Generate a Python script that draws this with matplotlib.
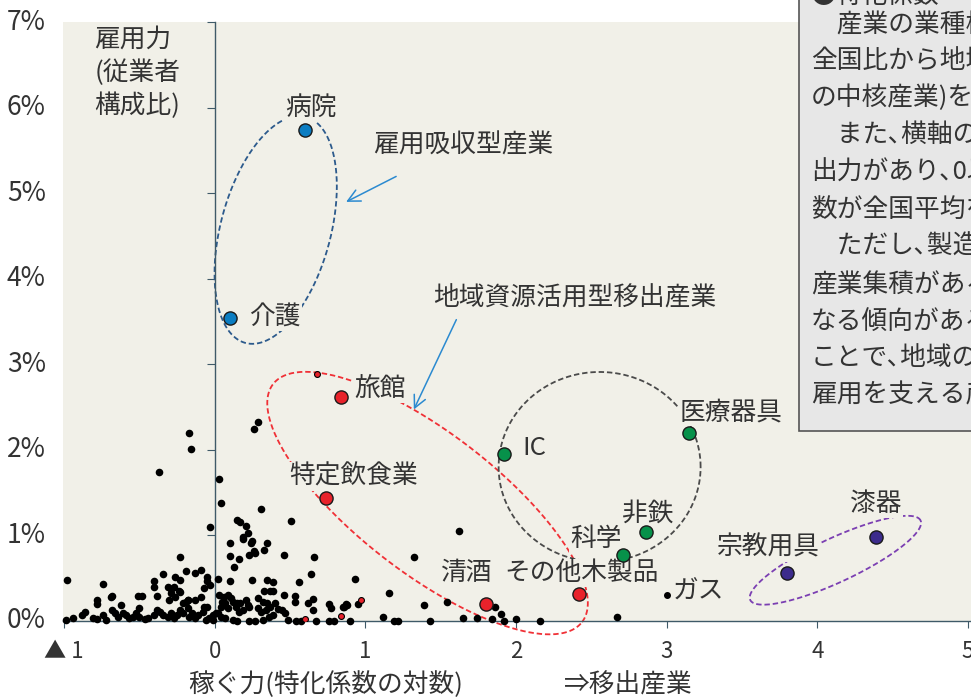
import numpy as np
import matplotlib
matplotlib.use("Agg")
import matplotlib.pyplot as plt
from matplotlib.patches import Rectangle

plt.rcParams['font.family'] = ['Noto Sans CJK JP', 'DejaVu Sans']

# ---------------------------------------------------------------------------
# data: x = 稼ぐ力 (特化係数の対数), y = 雇用力 (従業者構成比, %)
# ---------------------------------------------------------------------------
bg_x = [
    -0.98, -0.74, -0.23, -0.03, -0.37, -0.17, -0.16,
    -0.34, -0.26, -0.23, -0.19, -0.13, -0.09, -0.05, -0.05, -0.03,
    -0.40, -0.40, -0.31, -0.29, -0.24, -0.38, -0.26, -0.30,
    -0.51, -0.48, -0.68, -0.69, -0.78, -0.78, -0.50, -0.62,
    -0.07, -0.09, -0.13, -0.18, -0.21, -0.05, -0.07,
    -0.27, -0.29, -0.23, -0.19, -0.18,
    -0.99, -0.94, -0.88, -0.86, -0.81, -0.78, -0.74, -0.72, -0.68, -0.66,
    -0.64, -0.61, -0.59, -0.57, -0.54, -0.52, -0.50, -0.46, -0.44, -0.40,
    -0.38, -0.36, -0.34, -0.31, -0.29, -0.27, -0.25, -0.23, -0.21, -0.18,
    -0.17, -0.15, -0.13, -0.11, -0.08, -0.06, -0.04, -0.01, -0.01, 0.01,
    0.03, 0.04, 0.26, 0.29, 0.31, 0.51, 0.15, 0.17, 0.21, 0.22, 0.19, 0.19,
    0.25, 0.24, 0.10, 0.35, 0.33, 0.26, 0.27, 0.23, 0.10, 0.16, 0.13,
    0.46, 0.66, 0.64, 0.56, 0.93, 0.02, 0.10, 0.35, 0.39, 0.25,
    0.37, 0.39, 0.33, 0.46, 0.53, 0.53, 0.65, 0.62, 0.65, 0.76, 0.77,
    0.87, 0.85, 0.88, 0.86, 0.95,
    0.03, 0.06, 0.09, 0.11, 0.05, 0.07, 0.12, 0.15, 0.17, 0.21, 0.22,
    0.04, 0.09, 0.14, 0.16, 0.19, 0.23, 0.29, 0.32, 0.35, 0.29, 0.31,
    0.34, 0.37, 0.40, 0.42, 0.45, 0.39, 0.36, 0.32, 0.27, 0.23,
    0.02, 0.04, 0.07, 0.12, 0.15, 0.47, 0.49, 0.54, 0.57,
    0.67, 0.79, 0.76, 0.90,
    1.12, 1.16, 1.19, 1.22, 1.32, 1.43, 1.39, 1.54, 1.62, 1.65, 1.74,
    1.86, 1.90, 1.92, 1.84, 2.00, 2.16, 2.67,
]
bg_y = [
    0.48, 0.43, 0.75, 1.10, 1.74, 2.20, 2.01,
    0.55, 0.51, 0.48, 0.58, 0.56, 0.60, 0.51, 0.47, 0.42,
    0.47, 0.40, 0.40, 0.33, 0.35, 0.29, 0.28, 0.25,
    0.29, 0.29, 0.29, 0.28, 0.25, 0.20, 0.15, 0.19,
    0.39, 0.28, 0.25, 0.25, 0.21, 0.16, 0.16,
    0.40, 0.37, 0.34, 0.22, 0.25,
    0.01, 0.03, 0.07, 0.10, 0.03, 0.02, 0.07, 0.01, 0.13, 0.09,
    0.05, 0.09, 0.07, 0.03, 0.05, 0.09, 0.05, 0.02, 0.03, 0.07,
    0.13, 0.11, 0.07, 0.05, 0.09, 0.03, 0.07, 0.13, 0.09, 0.15,
    0.05, 0.09, 0.03, 0.07, 0.11, 0.01, 0.03, 0.07, 0.01, 0.09,
    1.66, 1.38, 2.24, 2.32, 1.31, 1.17, 1.18, 1.16, 1.11, 1.03, 0.98, 0.96,
    0.93, 0.91, 0.91, 0.91, 0.83, 0.82, 0.79, 0.77, 0.76, 0.72, 0.63,
    0.77, 0.75, 0.55, 0.46, 0.49, 0.49, 0.47, 0.48, 0.46, 0.48,
    0.35, 0.35, 0.35, 0.30, 0.29, 0.22, 0.26, 0.21, 0.13, 0.20, 0.15,
    0.20, 0.16, 0.19, 0.16, 0.20,
    0.30, 0.28, 0.30, 0.27, 0.22, 0.21, 0.22, 0.21, 0.21, 0.25, 0.19,
    0.16, 0.15, 0.16, 0.11, 0.13, 0.16, 0.27, 0.22, 0.21, 0.15, 0.11,
    0.13, 0.16, 0.21, 0.14, 0.13, 0.07, 0.05, 0.01, 0.00, 0.00,
    0.09, 0.05, 0.03, 0.01, 0.00, 0.09, 0.01, 0.00, 0.00,
    0.00, 0.00, 0.00, 0.00,
    0.05, 0.33, 0.00, 0.00, 0.75, 0.00, 0.19, 0.22, 1.05, 0.04, 0.04,
    0.16, 0.08, 0.00, 0.02, 0.02, 0.00, 0.05,
]

# small red-marked industries without labels
minor_x = [0.60, 0.84, 0.97, 0.68]
minor_y = [0.02, 0.06, 0.25, 2.89]

# labelled industries
names = ['病院', '介護', '旅館', '特定飲食業', '清酒', 'その他木製品',
         'IC', '医療器具', '非鉄', '科学', '宗教用具', '漆器']
ind_x = [0.60, 0.10, 0.84, 0.74, 1.80, 2.42, 1.92, 3.15, 2.86, 2.71, 3.80, 4.39]
ind_y = [5.74, 3.54, 2.62, 1.44, 0.20, 0.32, 1.95, 2.20, 1.04, 0.77, 0.56, 0.98]
groups = ['blue', 'blue', 'red', 'red', 'red', 'red',
          'green', 'green', 'green', 'green', 'purple', 'purple']
label_x = [0.637, 0.398, 1.095, 0.922, 1.672, 2.435, 2.124, 3.424, 2.873, 2.528, 3.676, 4.386]
label_y = [6.00, 3.56, 2.71, 1.69, 0.56, 0.56, 2.02, 2.44, 1.25, 0.96, 0.86, 1.37]

gas_x, gas_y = [3.00], [0.30]

colors = {'blue': '#0b7dc2', 'red': '#e8222b', 'green': '#07914a', 'purple': '#3c2b8c'}

xticks = [-1, 0, 1, 2, 3, 4, 5]
xtick_labels = ['▲ 1', '0', '1', '2', '3', '4', '5']
yticks = [0, 1, 2, 3, 4, 5, 6, 7]

# group ellipses: centre (data), semi axes (px), angle (deg), colour
ellipses = [
    ((0.405, 4.57), 117, 55, 75, '#2c5a8c'),
    ((1.413, 1.378), 195, 70, -37.6, '#f03036'),
    ((2.555, 1.80), 101, 95, 0, '#4a4a4a'),
    ((4.12, 0.71), 94, 22, 25, '#7b3fb2'),
]

note_lines = ['●特化係数', '　産業の業種構成比の', '全国比から地域の', 'の中核産業)を示す',
              '　また､横軸の0以上', '出力があり､0以上', '数が全国平均を上回る',
              '　ただし､製造業', '産業集積がある', 'なる傾向がある', 'ことで､地域の産業',
              '雇用を支える産業']
note_y_px = [-4, 25, 62, 98, 135, 173, 210, 247, 285, 322, 358, 395]

BG = '#f1f0e8'
AXC = '#3f5a68'
TXT = '#333333'

# ---------------------------------------------------------------------------
W, H = 971, 698
fig = plt.figure(figsize=(W / 100, H / 100), dpi=100)
ax = fig.add_axes([63 / W, (H - 621) / H, (W - 63) / W, (621 - 22) / H])
ax.set_facecolor(BG)
ax.set_xlim(-1.0066, 5.02)
ax.set_ylim(0, 7)

px_x = (W - 63) / (5.02 + 1.0066)
px_y = (621 - 22) / 7.0

for s in ['top', 'right']:
    ax.spines[s].set_visible(False)
ax.spines['left'].set_position(('data', 0))
for s in ['left', 'bottom']:
    ax.spines[s].set_color(AXC)
    ax.spines[s].set_linewidth(1.0)

ax.set_xticks(xticks)
ax.set_xticklabels(xtick_labels, fontsize=16, color=TXT)
ax.set_yticks(yticks)
ax.tick_params(axis='x', direction='out', length=5, color=AXC, pad=9)
ax.tick_params(axis='y', direction='out', length=6, color=AXC, labelleft=False)
for v in yticks:
    ax.text(-0.019, v, f'{v}%', transform=ax.get_yaxis_transform(),
            ha='right', va='center', fontsize=19, color=TXT)

# background industries
ax.scatter(bg_x, bg_y, s=30, color='black', zorder=3, clip_on=False, linewidths=0)
ax.scatter(minor_x, minor_y, s=18, color='#e8222b', edgecolors='black',
           linewidths=0.8, zorder=3)
ax.scatter(gas_x, gas_y, s=16, color='black', zorder=3)

# group ellipses
t = np.linspace(0, 2 * np.pi, 400)
for (cx, cy), a, b, ang, col in ellipses:
    r = np.radians(ang)
    dx = a * np.cos(t) * np.cos(r) - b * np.sin(t) * np.sin(r)
    dy = a * np.cos(t) * np.sin(r) + b * np.sin(t) * np.cos(r)
    ax.plot(cx + dx / px_x, cy + dy / px_y, color=col, lw=1.3,
            ls=(0, (3, 1.6)), zorder=2, clip_on=False)

# labelled industries
for i in range(len(names)):
    ax.scatter(ind_x[i], ind_y[i], s=90, color=colors[groups[i]],
               edgecolors='#1a1a1a', linewidths=1.0, zorder=5)
    ax.text(label_x[i], label_y[i], names[i], ha='center', va='center',
            fontsize=18.5, color=TXT, zorder=4,
            bbox=dict(boxstyle='square,pad=0.05', fc=BG, ec='none'))
ax.text(3.04, 0.34, 'ガス', ha='left', va='center', fontsize=18.5, color=TXT, zorder=4)

# group names with arrows
ax.text(1.055, 5.56, '雇用吸収型産業', ha='left', va='center', fontsize=18.5, color=TXT)
ax.text(1.453, 3.77, '地域資源活用型移出産業', ha='left', va='center', fontsize=18.5, color=TXT)
ax.annotate('', xy=(0.856, 4.883), xytext=(1.221, 5.210),
            arrowprops=dict(arrowstyle='->', color='#2b8ad0', lw=1.1, mutation_scale=22))
ax.annotate('', xy=(1.314, 2.442), xytext=(1.612, 3.551),
            arrowprops=dict(arrowstyle='->', color='#2b8ad0', lw=1.1, mutation_scale=22))

# axis titles
ax.text(-0.80, 6.94, '雇用力\n(従業者\n構成比)', ha='left', va='top',
        fontsize=18.5, color=TXT, linespacing=1.3)
ax.text(0.737, -0.107, '稼ぐ力(特化係数の対数)', transform=ax.get_xaxis_transform(),
        ha='center', va='center', fontsize=18.5, color=TXT)
ax.text(2.316, -0.107, '⇒移出産業', transform=ax.get_xaxis_transform(),
        ha='left', va='center', fontsize=18.5, color=TXT)

# explanatory note box (cut by the figure edge, as in the source)
fig.add_artist(Rectangle((799 / W, 1 - 431 / H), 0.4, 0.7, transform=fig.transFigure,
                         fc='#e7e7e7', ec='#555555', lw=1.2, zorder=10))
for line, ypx in zip(note_lines, note_y_px):
    fig.text(811 / W, 1 - ypx / H, line, ha='left', va='center',
             fontsize=18.5, color=TXT, zorder=11)

fig.savefig('out.png', dpi=100)
